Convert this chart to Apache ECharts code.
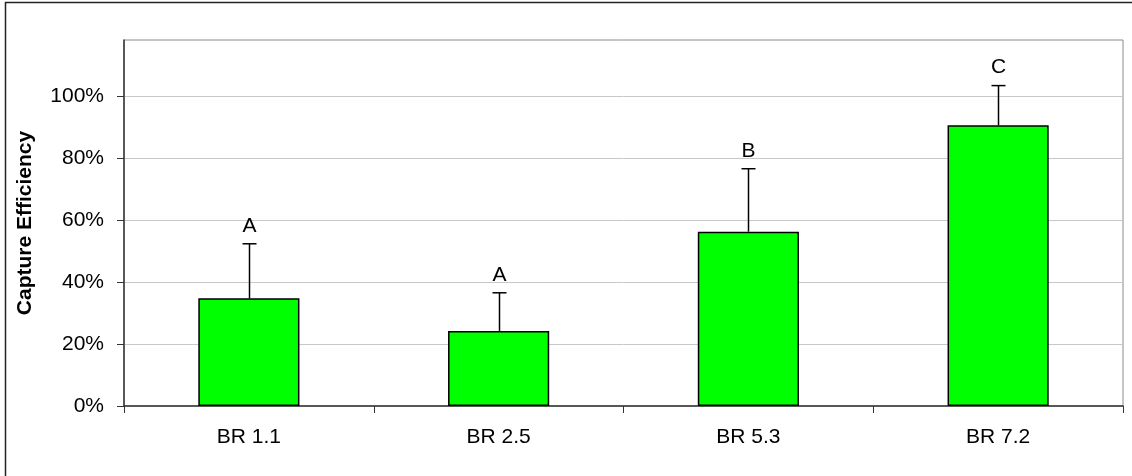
<!DOCTYPE html>
<html>
<head>
<meta charset="utf-8">
<script src="https://cdn.jsdelivr.net/npm/echarts@6/dist/echarts.min.js"></script>
<style>html,body{margin:0;padding:0;background:#fff;}#c{width:1132px;height:476px;}</style>
</head>
<body>
<div id="c"></div>
<script>
var categories = ['BR 1.1', 'BR 2.5', 'BR 5.3', 'BR 7.2'];
var efficiency = [0.347, 0.242, 0.562, 0.905];
var errorUpper = [0.523, 0.365, 0.765, 1.033];
var groupLetters = ['A', 'A', 'B', 'C'];
var yTicks = [0, 0.2, 0.4, 0.6, 0.8, 1.0];

var chart = echarts.init(document.getElementById('c'));
var font = 'Liberation Sans, Arial, sans-serif';
var errData = categories.map(function (c, i) { return [i, efficiency[i], errorUpper[i], groupLetters[i]]; });

chart.setOption({
  animation: false,
  backgroundColor: '#fff',
  graphic: [{
    type: 'rect', shape: { x: 5.5, y: 2.5, width: 1140, height: 500 },
    style: { fill: 'none', stroke: '#222', lineWidth: 1.5 }, silent: true, z: -1
  }],
  grid: { left: 124, top: 40, right: 9, bottom: 70, show: true, borderColor: '#8a8a8a', borderWidth: 1, backgroundColor: 'transparent' },
  xAxis: {
    type: 'category', data: categories,
    axisLine: { lineStyle: { color: '#333', width: 1.5 } },
    axisTick: { show: true, length: 7, lineStyle: { color: '#333' } },
    axisLabel: { color: '#000', fontSize: 21, fontFamily: font, margin: 21 }
  },
  yAxis: {
    type: 'value', min: 0, max: 1.18, interval: 0.2,
    name: 'Capture Efficiency', nameLocation: 'middle', nameRotate: 90, nameGap: 88,
    nameTextStyle: { color: '#000', fontSize: 21, fontWeight: 'bold', fontFamily: font },
    axisLine: { show: true, lineStyle: { color: '#333', width: 1.5 } },
    axisTick: { show: true, length: 7, lineStyle: { color: '#333' }, customValues: yTicks },
    axisLabel: { color: '#000', fontSize: 21, fontFamily: font, margin: 20, customValues: yTicks,
      formatter: function (v) { return Math.round(v * 100) + '%'; } },
    splitLine: { show: true, lineStyle: { color: '#c8c8c8', width: 1 } }
  },
  series: [{
    type: 'bar', data: efficiency, barWidth: '40.5%',
    itemStyle: { color: '#00ff00', borderColor: '#000', borderWidth: 1.5 }
  }, {
    type: 'custom', data: errData, z: 5,
    renderItem: function (params, api) {
      var x = api.value(0);
      var lo = api.coord([x, api.value(1)]);
      var hi = api.coord([x, api.value(2)]);
      var cx = Math.round(lo[0]) + 0.5;
      return {
        type: 'group', children: [
          { type: 'line', shape: { x1: cx, y1: lo[1], x2: cx, y2: hi[1] }, style: { stroke: '#000', lineWidth: 1.5 } },
          { type: 'line', shape: { x1: cx - 7, y1: hi[1], x2: cx + 7, y2: hi[1] }, style: { stroke: '#000', lineWidth: 1.5 } },
          { type: 'text', x: cx, y: hi[1] - 18, style: { text: api.value(3), fill: '#000', font: '21px ' + font, align: 'center', verticalAlign: 'middle' } }
        ]
      };
    }
  }]
});
</script>
</body>
</html>
